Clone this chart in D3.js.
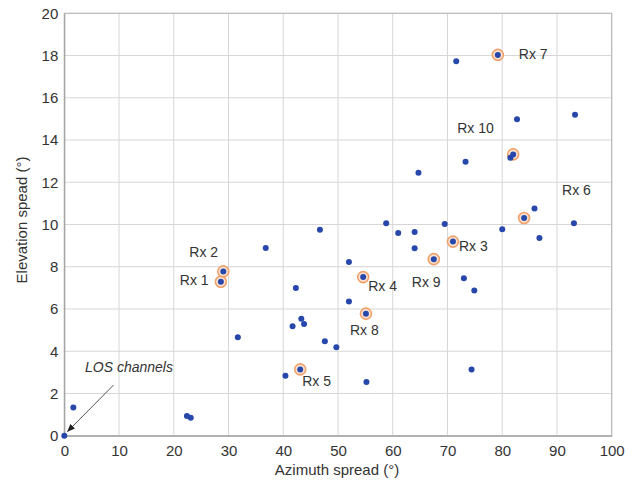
<!DOCTYPE html>
<html>
<head>
<meta charset="utf-8">
<script src="https://cdn.jsdelivr.net/npm/d3@7"></script>
<style>
  html, body { margin: 0; padding: 0; background: #fff; }
  svg { display: block; font-family: "Liberation Sans", Arial, sans-serif; }
</style>
</head>
<body>
<svg id="chart" width="635" height="484"></svg>
<script>
// ---- data ----
const azimuthSpread = [0, 1.65, 22.4, 23.1, 31.7, 36.8, 42.3, 43.3, 43.8, 41.7, 40.4, 46.7, 47.6, 49.7,
  52.0, 52.0, 55.2, 58.8, 61.0, 64.0, 64.0, 64.7, 69.5, 71.6, 73.0, 74.9, 74.4, 73.3, 80.0, 81.5,
  82.7, 85.9, 86.8, 93.1, 93.3];
const elevationSpread = [0, 1.33, 0.93, 0.85, 4.66, 8.89, 6.99, 5.54, 5.29, 5.18, 2.84, 9.75, 4.47, 4.19,
  8.22, 6.36, 2.54, 10.06, 9.60, 9.65, 8.88, 12.45, 10.02, 17.73, 7.46, 6.87, 3.13, 12.97, 9.77, 13.16,
  14.98, 10.76, 9.36, 10.06, 15.20];

const rxNames = ["Rx 1", "Rx 2", "Rx 3", "Rx 4", "Rx 5", "Rx 6", "Rx 7", "Rx 8", "Rx 9", "Rx 10"];
const rxAzimuth = [28.6, 29.05, 71.0, 54.6, 43.1, 84.0, 79.2, 55.1, 67.5, 82.0];
const rxElevation = [7.29, 7.78, 9.19, 7.51, 3.14, 10.31, 18.03, 5.78, 8.36, 13.32];

const xTicks = [0, 10, 20, 30, 40, 50, 60, 70, 80, 90, 100];
const yTicks = [0, 2, 4, 6, 8, 10, 12, 14, 16, 18, 20];

const xTitle = "Azimuth spread (°)";
const yTitle = "Elevation spead (°)";
const annotation = "LOS channels";

// ---- layout (label offsets in pixels, not data) ----
const labelOffset = {
  "Rx 1": [-41, 3], "Rx 2": [-34, -14], "Rx 3": [6, 9], "Rx 4": [5, 14], "Rx 5": [2, 17],
  "Rx 6": [38, -23], "Rx 7": [21, 4], "Rx 8": [-16, 21], "Rx 9": [-22, 28], "Rx 10": [-56, -21]
};

const svg = d3.select("#chart");
const pL = 64.3, pR = 611.7, pT = 13.3, pB = 435.7;

const x = d3.scaleLinear().domain([0, 100]).range([pL, pR]);
const y = d3.scaleLinear().domain([0, 20]).range([pB, pT]);

const textColor = "#333";
const gridColor = "#d6d6d6";

// grid
svg.append("g").selectAll("line").data(xTicks).join("line")
  .attr("x1", d => x(d)).attr("x2", d => x(d)).attr("y1", pT).attr("y2", pB)
  .attr("stroke", gridColor).attr("stroke-width", 1);
svg.append("g").selectAll("line").data(yTicks).join("line")
  .attr("x1", pL).attr("x2", pR).attr("y1", d => y(d)).attr("y2", d => y(d))
  .attr("stroke", gridColor).attr("stroke-width", 1);

// box
svg.append("rect").attr("x", pL).attr("y", pT).attr("width", pR - pL).attr("height", pB - pT)
  .attr("fill", "none").attr("stroke", "#b5b5b5").attr("stroke-width", 1);

// axes
const xAxis = svg.append("g").attr("transform", `translate(0,${pB})`)
  .call(d3.axisBottom(x).tickValues(xTicks).tickSize(0).tickPadding(10).tickFormat(d3.format("d")));
const yAxis = svg.append("g").attr("transform", `translate(${pL},0)`)
  .call(d3.axisLeft(y).tickValues(yTicks).tickSize(0).tickPadding(6).tickFormat(d3.format("d")));
[xAxis, yAxis].forEach(a => {
  a.select(".domain").attr("stroke", "#9a9a9a");
  a.selectAll("text").attr("fill", textColor).style("font-size", "15px")
    .style("font-family", "'Liberation Sans', Arial, sans-serif");
});

// axis titles
svg.append("text").attr("x", 337).attr("y", 475).attr("text-anchor", "middle")
  .attr("fill", textColor).style("font-size", "15px").text(xTitle);
svg.append("text").attr("transform", "translate(27,220) rotate(-90)").attr("text-anchor", "middle")
  .attr("fill", textColor).style("font-size", "15px").text(yTitle);

// orange rings for Rx points
const rx = rxNames.map((n, i) => ({ name: n, az: rxAzimuth[i], el: rxElevation[i] }));
svg.append("g").selectAll("circle").data(rx).join("circle")
  .attr("cx", d => x(d.az)).attr("cy", d => y(d.el)).attr("r", 5.5)
  .attr("fill", "#fbe3d2").attr("stroke", "#f2a06a").attr("stroke-width", 1.6);

// blue points
const pts = azimuthSpread.map((a, i) => ({ az: a, el: elevationSpread[i] }));
svg.append("g").selectAll("circle").data(pts.concat(rx)).join("circle")
  .attr("cx", d => x(d.az)).attr("cy", d => y(d.el)).attr("r", 3)
  .attr("fill", "#2747aa");

// Rx labels
svg.append("g").selectAll("text").data(rx).join("text")
  .attr("x", d => x(d.az) + labelOffset[d.name][0])
  .attr("y", d => y(d.el) + labelOffset[d.name][1])
  .attr("fill", textColor).style("font-size", "14px").text(d => d.name);

// LOS annotation
svg.append("defs").append("marker").attr("id", "arrow").attr("viewBox", "0 0 10 10")
  .attr("refX", 9).attr("refY", 5).attr("markerWidth", 8).attr("markerHeight", 8)
  .attr("orient", "auto-start-reverse")
  .append("path").attr("d", "M0,1 L10,5 L0,9 Z").attr("fill", "#222");
svg.append("line").attr("x1", x(9)).attr("y1", y(2.4)).attr("x2", x(0.6)).attr("y2", y(0.2))
  .attr("stroke", "#555").attr("stroke-width", 1).attr("marker-end", "url(#arrow)");
svg.append("text").attr("x", 85).attr("y", 372).attr("fill", textColor)
  .style("font-size", "14px").style("font-style", "italic").text(annotation);
</script>
</body>
</html>
